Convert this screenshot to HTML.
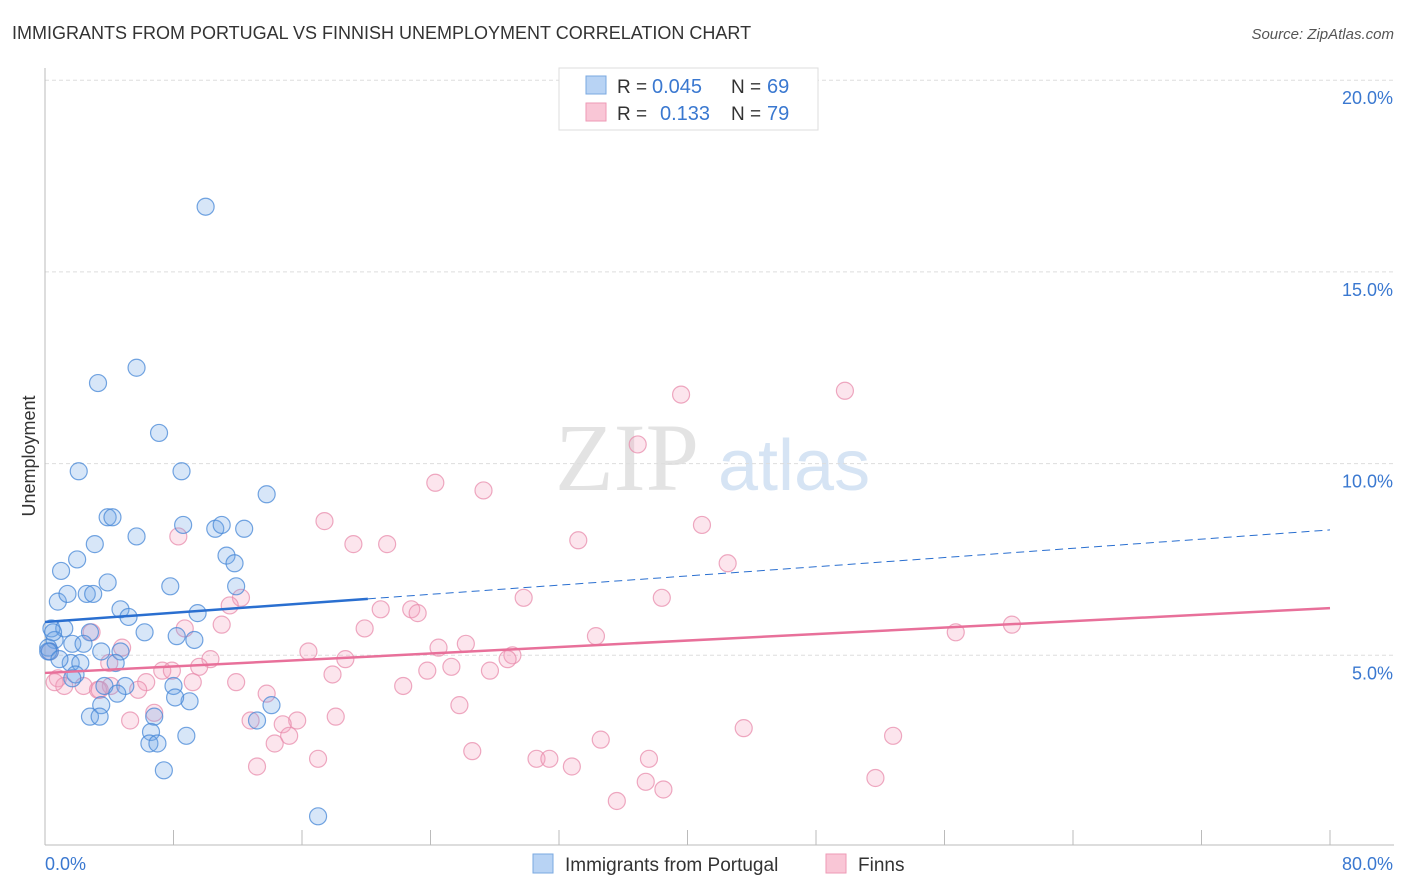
<!DOCTYPE html>
<html><head><meta charset="utf-8"><style>
body{margin:0;background:#fff;font-family:"Liberation Sans",sans-serif;}
svg{display:block}
</style></head><body>
<svg id="c" width="1406" height="892">
<text x="12" y="39" font-size="18" fill="#333">IMMIGRANTS FROM PORTUGAL VS FINNISH UNEMPLOYMENT CORRELATION CHART</text>
<text x="1394" y="39" font-size="15" fill="#555" font-style="italic" text-anchor="end">Source: ZipAtlas.com</text>
<text x="35" y="456" font-size="18" fill="#333" transform="rotate(-90 35 456)" text-anchor="middle">Unemployment</text>
<text x="555" y="490" font-size="96" fill="#e3e3e3" font-family="Liberation Serif,serif">ZIP</text>
<text x="718" y="490" font-size="72" fill="#d6e4f4">atlas</text>
<g id="grid"></g><g id="pts"></g><g id="lines"></g>
<g>
<rect x="559" y="68" width="259" height="62" fill="#fff" stroke="#ddd"/>
<rect x="586" y="76" width="20" height="18" fill="#b8d3f4" stroke="#7aa8e0"/>
<rect x="586" y="103" width="20" height="18" fill="#f9c6d6" stroke="#ee9ab6"/>
<text x="617" y="93" font-size="19" fill="#333">R =</text>
<text x="652" y="93" font-size="20" fill="#3a78d0">0.045</text>
<text x="731" y="93" font-size="19" fill="#333">N =</text>
<text x="767" y="93" font-size="20" fill="#3a78d0">69</text>
<text x="617" y="120" font-size="19" fill="#333">R =</text>
<text x="660" y="120" font-size="20" fill="#3a78d0">0.133</text>
<text x="731" y="120" font-size="19" fill="#333">N =</text>
<text x="767" y="120" font-size="20" fill="#3a78d0">79</text>
</g>
<g>
<rect x="533" y="854" width="20" height="19" fill="#b8d3f4" stroke="#7aa8e0"/>
<text x="565" y="871" font-size="19" fill="#333">Immigrants from Portugal</text>
<rect x="826" y="854" width="20" height="19" fill="#f9c6d6" stroke="#ee9ab6"/>
<text x="858" y="871" font-size="19" fill="#333">Finns</text>
</g>
<text x="45" y="870" font-size="18" fill="#3a78d0">0.0%</text>
<text x="1393" y="870" font-size="18" fill="#3a78d0" text-anchor="end">80.0%</text>
</svg>
<script>
const yTicks=[5,10,15,20];
const blueX=[10,5.7,3.3,7.1,2.1,8.5,13.8,3.9,4.2,8.6,10.6,11,12.4,5.7,3.1,11.3,2,1,11.8,3.9,7.8,11.9,2.6,3,0.8,1.4,4.7,9.5,5.2,0.4,1.2,2.8,6.2,8.2,9.3,1.7,2.4,0.6,0.2,0.3,3.5,4.7,1.6,2.2,4.4,1.9,1.7,3.7,5,4.5,8,9,8.1,3.5,14.1,2.8,3.4,13.2,6.8,6.6,6.5,7,8.8,7.4,17,0.2,0.5,0.9];
const blueY=[16.7,12.5,12.1,10.8,9.8,9.8,9.2,8.6,8.6,8.4,8.3,8.4,8.3,8.1,7.9,7.6,7.5,7.2,7.4,6.9,6.8,6.8,6.6,6.6,6.4,6.6,6.2,6.1,6,5.7,5.7,5.6,5.6,5.5,5.4,5.3,5.3,5.4,5.2,5.1,5.1,5.1,4.8,4.8,4.8,4.5,4.4,4.2,4.2,4,4.2,3.8,3.9,3.7,3.7,3.4,3.4,3.3,3.4,3,2.7,2.7,2.9,2,0.8,5.1,5.6,4.9];
const pinkX=[39.6,49.8,36.9,24.3,27.3,17.4,40.9,33.2,19.2,21.3,8.3,42.5,29.8,38.4,12.2,11.5,20.9,22.8,23.2,11,8.7,19.9,2.9,4.8,34.3,56.7,60.2,26.2,24.5,16.4,29.1,18.7,28.8,10.3,25.3,27.7,7.3,7.9,9.6,23.8,17.9,9.2,0.8,1.2,11.9,6.3,4.1,2.4,3.3,22.3,13.8,5.8,25.8,6.8,5.3,18.1,15.7,12.8,14.8,15.2,14.3,34.6,52.8,43.5,26.6,30.6,31.4,37.6,32.8,17,13.2,51.7,37.4,38.5,35.6,0.3,3.4,0.6,4]
const pinkY=[11.8,11.9,10.5,9.5,9.3,8.5,8.4,8,7.9,7.9,8.1,7.4,6.5,6.5,6.5,6.3,6.2,6.2,6.1,5.8,5.7,5.7,5.6,5.2,5.5,5.6,5.8,5.3,5.2,5.1,5,4.9,4.9,4.9,4.7,4.6,4.6,4.6,4.7,4.6,4.5,4.3,4.4,4.2,4.3,4.3,4.2,4.2,4.1,4.2,4,4.1,3.7,3.5,3.3,3.4,3.3,3.3,3.2,2.9,2.7,2.8,2.9,3.1,2.5,2.3,2.3,2.3,2.1,2.3,2.1,1.8,1.7,1.5,1.2,5.1,4.1,4.3,4.8];
const blueTrend=[5.87,8.27], pinkTrend=[4.54,6.23], blueSolidEnd=20.1;
const X0=45,X1=1330,Y0=847,YS=191.7/5;
const sx=v=>X0+(v/80)*(X1-X0), sy=v=>Y0-v*YS;
const NS='http://www.w3.org/2000/svg';
function mk(t,a,p){const e=document.createElementNS(NS,t);for(const k in a)e.setAttribute(k,a[k]);p.appendChild(e);return e;}
const g=document.getElementById('grid');
yTicks.forEach(t=>{
 const l=mk('line',{x1:45,x2:1394,y1:sy(t),y2:sy(t),stroke:'#ddd','stroke-dasharray':'4 3'},g);
 
 
 const tx=mk('text',{x:1393,y:sy(t)+24,'font-size':18,fill:'#3a78d0','text-anchor':'end'},g);
 tx.textContent=t.toFixed(1)+'%';
 
 
});
const ax=mk('line',{x1:45,x2:45,y1:68,y2:845,stroke:'#bbb'},g);


const bx=mk('line',{x1:45,x2:1394,y1:845,y2:845,stroke:'#bbb'},g);


for(let i=0;i<=10;i++){const tk=mk('line',{x1:sx(i*8),x2:sx(i*8),y1:830,y2:845,stroke:'#bbb'},g);
 
 }
const P=document.getElementById('pts');
pinkX.forEach((x,i)=>{const c=mk('circle',{cx:sx(x),cy:sy(pinkY[i]),r:8.5,fill:'rgba(244,160,190,0.28)',stroke:'rgba(232,140,172,0.75)','stroke-width':1.2},P);
 
 });
blueX.forEach((x,i)=>{const c=mk('circle',{cx:sx(x),cy:sy(blueY[i]),r:8.5,fill:'rgba(110,165,230,0.28)',stroke:'rgba(70,135,215,0.75)','stroke-width':1.2},P);
 
 });
const L=document.getElementById('lines');
const bv=x=>blueTrend[0]+(blueTrend[1]-blueTrend[0])*x/80;
const l1=mk('line',{x1:sx(0),y1:sy(bv(0)),x2:sx(blueSolidEnd),y2:sy(bv(blueSolidEnd)),stroke:'#2a6fd0','stroke-width':2.5},L);


const l2=mk('line',{x1:sx(blueSolidEnd),y1:sy(bv(blueSolidEnd)),x2:sx(80),y2:sy(bv(80)),stroke:'#2a6fd0','stroke-width':1,'stroke-dasharray':'8 5'},L);


const l3=mk('line',{x1:sx(0),y1:sy(pinkTrend[0]),x2:sx(80),y2:sy(pinkTrend[1]),stroke:'#e8709a','stroke-width':2.5},L);


</script>
</body></html>
